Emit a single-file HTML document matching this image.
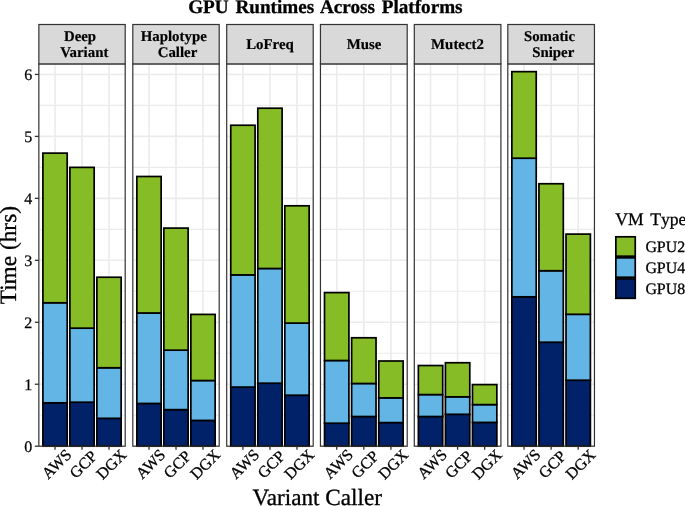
<!DOCTYPE html>
<html><head><meta charset="utf-8"><title>GPU Runtimes Across Platforms</title>
<style>html,body{margin:0;padding:0;background:#fff}svg{display:block}</style></head>
<body>
<svg width="685" height="506" viewBox="0 0 685 506" font-family="'Liberation Serif', serif" text-rendering="geometricPrecision">
<rect width="685" height="506" fill="#fff"/>
<rect x="38.85" y="63.9" width="86.35" height="382.30" fill="#fff"/>
<g stroke="#ebebeb"><line x1="38.85" x2="125.20" y1="446.20" y2="446.20" stroke-width="1.6"/><line x1="38.85" x2="125.20" y1="415.22" y2="415.22" stroke-width="1.1"/><line x1="38.85" x2="125.20" y1="384.24" y2="384.24" stroke-width="1.6"/><line x1="38.85" x2="125.20" y1="353.26" y2="353.26" stroke-width="1.1"/><line x1="38.85" x2="125.20" y1="322.28" y2="322.28" stroke-width="1.6"/><line x1="38.85" x2="125.20" y1="291.30" y2="291.30" stroke-width="1.1"/><line x1="38.85" x2="125.20" y1="260.32" y2="260.32" stroke-width="1.6"/><line x1="38.85" x2="125.20" y1="229.34" y2="229.34" stroke-width="1.1"/><line x1="38.85" x2="125.20" y1="198.36" y2="198.36" stroke-width="1.6"/><line x1="38.85" x2="125.20" y1="167.38" y2="167.38" stroke-width="1.1"/><line x1="38.85" x2="125.20" y1="136.40" y2="136.40" stroke-width="1.6"/><line x1="38.85" x2="125.20" y1="105.42" y2="105.42" stroke-width="1.1"/><line x1="38.85" x2="125.20" y1="74.44" y2="74.44" stroke-width="1.6"/><line x1="55.04" x2="55.04" y1="63.9" y2="446.2" stroke-width="1.6"/><line x1="82.03" x2="82.03" y1="63.9" y2="446.2" stroke-width="1.6"/><line x1="109.01" x2="109.01" y1="63.9" y2="446.2" stroke-width="1.6"/></g>
<g stroke="#000" stroke-width="1.7" stroke-linejoin="miter"><rect x="42.90" y="402.83" width="24.29" height="43.37" fill="#012169"/><rect x="42.90" y="302.76" width="24.29" height="100.07" fill="#62b5e5"/><rect x="42.90" y="153.13" width="24.29" height="149.63" fill="#86bc25"/><rect x="69.88" y="402.21" width="24.29" height="43.99" fill="#012169"/><rect x="69.88" y="328.17" width="24.29" height="74.04" fill="#62b5e5"/><rect x="69.88" y="167.38" width="24.29" height="160.79" fill="#86bc25"/><rect x="96.87" y="418.32" width="24.29" height="27.88" fill="#012169"/><rect x="96.87" y="367.76" width="24.29" height="50.56" fill="#62b5e5"/><rect x="96.87" y="277.24" width="24.29" height="90.52" fill="#86bc25"/></g>
<rect x="38.85" y="63.9" width="86.35" height="382.30" fill="none" stroke="#333" stroke-width="1.2"/>
<rect x="38.85" y="24.5" width="86.35" height="39.40" fill="#d9d9d9" stroke="#333" stroke-width="1.2"/>
<text x="80.0" y="41.3" font-size="14.85" font-weight="bold" text-anchor="middle" fill="#000" stroke="#000" stroke-width="0.2">Deep</text>
<text x="84.3" y="57.2" font-size="14.85" font-weight="bold" text-anchor="middle" fill="#000" stroke="#000" stroke-width="0.2">Variant</text>
<line x1="55.04" x2="55.04" y1="446.2" y2="449.8" stroke="#333" stroke-width="1.3"/>
<text transform="translate(72.44,455.6) rotate(-45)" font-size="16" text-anchor="end" fill="#000" stroke="#000" stroke-width="0.3">AWS</text>
<line x1="82.03" x2="82.03" y1="446.2" y2="449.8" stroke="#333" stroke-width="1.3"/>
<text transform="translate(98.03,457.2) rotate(-45)" font-size="16" text-anchor="end" fill="#000" stroke="#000" stroke-width="0.3">GCP</text>
<line x1="109.01" x2="109.01" y1="446.2" y2="449.8" stroke="#333" stroke-width="1.3"/>
<text transform="translate(127.31,455.8) rotate(-45)" font-size="16" text-anchor="end" fill="#000" stroke="#000" stroke-width="0.3">DGX</text>
<rect x="132.80" y="63.9" width="86.40" height="382.30" fill="#fff"/>
<g stroke="#ebebeb"><line x1="132.80" x2="219.20" y1="446.20" y2="446.20" stroke-width="1.6"/><line x1="132.80" x2="219.20" y1="415.22" y2="415.22" stroke-width="1.1"/><line x1="132.80" x2="219.20" y1="384.24" y2="384.24" stroke-width="1.6"/><line x1="132.80" x2="219.20" y1="353.26" y2="353.26" stroke-width="1.1"/><line x1="132.80" x2="219.20" y1="322.28" y2="322.28" stroke-width="1.6"/><line x1="132.80" x2="219.20" y1="291.30" y2="291.30" stroke-width="1.1"/><line x1="132.80" x2="219.20" y1="260.32" y2="260.32" stroke-width="1.6"/><line x1="132.80" x2="219.20" y1="229.34" y2="229.34" stroke-width="1.1"/><line x1="132.80" x2="219.20" y1="198.36" y2="198.36" stroke-width="1.6"/><line x1="132.80" x2="219.20" y1="167.38" y2="167.38" stroke-width="1.1"/><line x1="132.80" x2="219.20" y1="136.40" y2="136.40" stroke-width="1.6"/><line x1="132.80" x2="219.20" y1="105.42" y2="105.42" stroke-width="1.1"/><line x1="132.80" x2="219.20" y1="74.44" y2="74.44" stroke-width="1.6"/><line x1="149.00" x2="149.00" y1="63.9" y2="446.2" stroke-width="1.6"/><line x1="176.00" x2="176.00" y1="63.9" y2="446.2" stroke-width="1.6"/><line x1="203.00" x2="203.00" y1="63.9" y2="446.2" stroke-width="1.6"/></g>
<g stroke="#000" stroke-width="1.7" stroke-linejoin="miter"><rect x="136.85" y="403.45" width="24.30" height="42.75" fill="#012169"/><rect x="136.85" y="312.99" width="24.30" height="90.46" fill="#62b5e5"/><rect x="136.85" y="176.49" width="24.30" height="136.50" fill="#86bc25"/><rect x="163.85" y="409.64" width="24.30" height="36.56" fill="#012169"/><rect x="163.85" y="350.16" width="24.30" height="59.48" fill="#62b5e5"/><rect x="163.85" y="228.10" width="24.30" height="122.06" fill="#86bc25"/><rect x="190.85" y="420.42" width="24.30" height="25.78" fill="#012169"/><rect x="190.85" y="380.52" width="24.30" height="39.90" fill="#62b5e5"/><rect x="190.85" y="314.41" width="24.30" height="66.11" fill="#86bc25"/></g>
<rect x="132.80" y="63.9" width="86.40" height="382.30" fill="none" stroke="#333" stroke-width="1.2"/>
<rect x="132.80" y="24.5" width="86.40" height="39.40" fill="#d9d9d9" stroke="#333" stroke-width="1.2"/>
<text x="173.75" y="41.3" font-size="14.85" font-weight="bold" text-anchor="middle" fill="#000" stroke="#000" stroke-width="0.2">Haplotype</text>
<text x="177.5" y="57.2" font-size="14.85" font-weight="bold" text-anchor="middle" fill="#000" stroke="#000" stroke-width="0.2">Caller</text>
<line x1="149.00" x2="149.00" y1="446.2" y2="449.8" stroke="#333" stroke-width="1.3"/>
<text transform="translate(166.40,455.6) rotate(-45)" font-size="16" text-anchor="end" fill="#000" stroke="#000" stroke-width="0.3">AWS</text>
<line x1="176.00" x2="176.00" y1="446.2" y2="449.8" stroke="#333" stroke-width="1.3"/>
<text transform="translate(192.00,457.2) rotate(-45)" font-size="16" text-anchor="end" fill="#000" stroke="#000" stroke-width="0.3">GCP</text>
<line x1="203.00" x2="203.00" y1="446.2" y2="449.8" stroke="#333" stroke-width="1.3"/>
<text transform="translate(221.30,455.8) rotate(-45)" font-size="16" text-anchor="end" fill="#000" stroke="#000" stroke-width="0.3">DGX</text>
<rect x="226.70" y="63.9" width="86.50" height="382.30" fill="#fff"/>
<g stroke="#ebebeb"><line x1="226.70" x2="313.20" y1="446.20" y2="446.20" stroke-width="1.6"/><line x1="226.70" x2="313.20" y1="415.22" y2="415.22" stroke-width="1.1"/><line x1="226.70" x2="313.20" y1="384.24" y2="384.24" stroke-width="1.6"/><line x1="226.70" x2="313.20" y1="353.26" y2="353.26" stroke-width="1.1"/><line x1="226.70" x2="313.20" y1="322.28" y2="322.28" stroke-width="1.6"/><line x1="226.70" x2="313.20" y1="291.30" y2="291.30" stroke-width="1.1"/><line x1="226.70" x2="313.20" y1="260.32" y2="260.32" stroke-width="1.6"/><line x1="226.70" x2="313.20" y1="229.34" y2="229.34" stroke-width="1.1"/><line x1="226.70" x2="313.20" y1="198.36" y2="198.36" stroke-width="1.6"/><line x1="226.70" x2="313.20" y1="167.38" y2="167.38" stroke-width="1.1"/><line x1="226.70" x2="313.20" y1="136.40" y2="136.40" stroke-width="1.6"/><line x1="226.70" x2="313.20" y1="105.42" y2="105.42" stroke-width="1.1"/><line x1="226.70" x2="313.20" y1="74.44" y2="74.44" stroke-width="1.6"/><line x1="242.92" x2="242.92" y1="63.9" y2="446.2" stroke-width="1.6"/><line x1="269.95" x2="269.95" y1="63.9" y2="446.2" stroke-width="1.6"/><line x1="296.98" x2="296.98" y1="63.9" y2="446.2" stroke-width="1.6"/></g>
<g stroke="#000" stroke-width="1.7" stroke-linejoin="miter"><rect x="230.75" y="387.09" width="24.33" height="59.11" fill="#012169"/><rect x="230.75" y="274.88" width="24.33" height="112.21" fill="#62b5e5"/><rect x="230.75" y="125.25" width="24.33" height="149.63" fill="#86bc25"/><rect x="257.79" y="383.19" width="24.33" height="63.01" fill="#012169"/><rect x="257.79" y="268.50" width="24.33" height="114.69" fill="#62b5e5"/><rect x="257.79" y="108.21" width="24.33" height="160.29" fill="#86bc25"/><rect x="284.82" y="395.21" width="24.33" height="50.99" fill="#012169"/><rect x="284.82" y="323.09" width="24.33" height="72.12" fill="#62b5e5"/><rect x="284.82" y="205.80" width="24.33" height="117.29" fill="#86bc25"/></g>
<rect x="226.70" y="63.9" width="86.50" height="382.30" fill="none" stroke="#333" stroke-width="1.2"/>
<rect x="226.70" y="24.5" width="86.50" height="39.40" fill="#d9d9d9" stroke="#333" stroke-width="1.2"/>
<text x="270" y="49.1" font-size="14.85" font-weight="bold" text-anchor="middle" fill="#000" stroke="#000" stroke-width="0.2">LoFreq</text>
<line x1="242.92" x2="242.92" y1="446.2" y2="449.8" stroke="#333" stroke-width="1.3"/>
<text transform="translate(260.32,455.6) rotate(-45)" font-size="16" text-anchor="end" fill="#000" stroke="#000" stroke-width="0.3">AWS</text>
<line x1="269.95" x2="269.95" y1="446.2" y2="449.8" stroke="#333" stroke-width="1.3"/>
<text transform="translate(285.95,457.2) rotate(-45)" font-size="16" text-anchor="end" fill="#000" stroke="#000" stroke-width="0.3">GCP</text>
<line x1="296.98" x2="296.98" y1="446.2" y2="449.8" stroke="#333" stroke-width="1.3"/>
<text transform="translate(315.28,455.8) rotate(-45)" font-size="16" text-anchor="end" fill="#000" stroke="#000" stroke-width="0.3">DGX</text>
<rect x="320.45" y="63.9" width="86.75" height="382.30" fill="#fff"/>
<g stroke="#ebebeb"><line x1="320.45" x2="407.20" y1="446.20" y2="446.20" stroke-width="1.6"/><line x1="320.45" x2="407.20" y1="415.22" y2="415.22" stroke-width="1.1"/><line x1="320.45" x2="407.20" y1="384.24" y2="384.24" stroke-width="1.6"/><line x1="320.45" x2="407.20" y1="353.26" y2="353.26" stroke-width="1.1"/><line x1="320.45" x2="407.20" y1="322.28" y2="322.28" stroke-width="1.6"/><line x1="320.45" x2="407.20" y1="291.30" y2="291.30" stroke-width="1.1"/><line x1="320.45" x2="407.20" y1="260.32" y2="260.32" stroke-width="1.6"/><line x1="320.45" x2="407.20" y1="229.34" y2="229.34" stroke-width="1.1"/><line x1="320.45" x2="407.20" y1="198.36" y2="198.36" stroke-width="1.6"/><line x1="320.45" x2="407.20" y1="167.38" y2="167.38" stroke-width="1.1"/><line x1="320.45" x2="407.20" y1="136.40" y2="136.40" stroke-width="1.6"/><line x1="320.45" x2="407.20" y1="105.42" y2="105.42" stroke-width="1.1"/><line x1="320.45" x2="407.20" y1="74.44" y2="74.44" stroke-width="1.6"/><line x1="336.72" x2="336.72" y1="63.9" y2="446.2" stroke-width="1.6"/><line x1="363.82" x2="363.82" y1="63.9" y2="446.2" stroke-width="1.6"/><line x1="390.93" x2="390.93" y1="63.9" y2="446.2" stroke-width="1.6"/></g>
<g stroke="#000" stroke-width="1.7" stroke-linejoin="miter"><rect x="324.52" y="423.21" width="24.40" height="22.99" fill="#012169"/><rect x="324.52" y="360.51" width="24.40" height="62.70" fill="#62b5e5"/><rect x="324.52" y="292.60" width="24.40" height="67.91" fill="#86bc25"/><rect x="351.63" y="416.52" width="24.40" height="29.68" fill="#012169"/><rect x="351.63" y="383.50" width="24.40" height="33.02" fill="#62b5e5"/><rect x="351.63" y="337.77" width="24.40" height="45.73" fill="#86bc25"/><rect x="378.74" y="422.59" width="24.40" height="23.61" fill="#012169"/><rect x="378.74" y="397.87" width="24.40" height="24.72" fill="#62b5e5"/><rect x="378.74" y="361.00" width="24.40" height="36.87" fill="#86bc25"/></g>
<rect x="320.45" y="63.9" width="86.75" height="382.30" fill="none" stroke="#333" stroke-width="1.2"/>
<rect x="320.45" y="24.5" width="86.75" height="39.40" fill="#d9d9d9" stroke="#333" stroke-width="1.2"/>
<text x="364" y="49.1" font-size="14.85" font-weight="bold" text-anchor="middle" fill="#000" stroke="#000" stroke-width="0.2">Muse</text>
<line x1="336.72" x2="336.72" y1="446.2" y2="449.8" stroke="#333" stroke-width="1.3"/>
<text transform="translate(354.12,455.6) rotate(-45)" font-size="16" text-anchor="end" fill="#000" stroke="#000" stroke-width="0.3">AWS</text>
<line x1="363.82" x2="363.82" y1="446.2" y2="449.8" stroke="#333" stroke-width="1.3"/>
<text transform="translate(379.82,457.2) rotate(-45)" font-size="16" text-anchor="end" fill="#000" stroke="#000" stroke-width="0.3">GCP</text>
<line x1="390.93" x2="390.93" y1="446.2" y2="449.8" stroke="#333" stroke-width="1.3"/>
<text transform="translate(409.23,455.8) rotate(-45)" font-size="16" text-anchor="end" fill="#000" stroke="#000" stroke-width="0.3">DGX</text>
<rect x="414.30" y="63.9" width="86.60" height="382.30" fill="#fff"/>
<g stroke="#ebebeb"><line x1="414.30" x2="500.90" y1="446.20" y2="446.20" stroke-width="1.6"/><line x1="414.30" x2="500.90" y1="415.22" y2="415.22" stroke-width="1.1"/><line x1="414.30" x2="500.90" y1="384.24" y2="384.24" stroke-width="1.6"/><line x1="414.30" x2="500.90" y1="353.26" y2="353.26" stroke-width="1.1"/><line x1="414.30" x2="500.90" y1="322.28" y2="322.28" stroke-width="1.6"/><line x1="414.30" x2="500.90" y1="291.30" y2="291.30" stroke-width="1.1"/><line x1="414.30" x2="500.90" y1="260.32" y2="260.32" stroke-width="1.6"/><line x1="414.30" x2="500.90" y1="229.34" y2="229.34" stroke-width="1.1"/><line x1="414.30" x2="500.90" y1="198.36" y2="198.36" stroke-width="1.6"/><line x1="414.30" x2="500.90" y1="167.38" y2="167.38" stroke-width="1.1"/><line x1="414.30" x2="500.90" y1="136.40" y2="136.40" stroke-width="1.6"/><line x1="414.30" x2="500.90" y1="105.42" y2="105.42" stroke-width="1.1"/><line x1="414.30" x2="500.90" y1="74.44" y2="74.44" stroke-width="1.6"/><line x1="430.54" x2="430.54" y1="63.9" y2="446.2" stroke-width="1.6"/><line x1="457.60" x2="457.60" y1="63.9" y2="446.2" stroke-width="1.6"/><line x1="484.66" x2="484.66" y1="63.9" y2="446.2" stroke-width="1.6"/></g>
<g stroke="#000" stroke-width="1.7" stroke-linejoin="miter"><rect x="418.36" y="416.52" width="24.36" height="29.68" fill="#012169"/><rect x="418.36" y="394.59" width="24.36" height="21.93" fill="#62b5e5"/><rect x="418.36" y="365.53" width="24.36" height="29.06" fill="#86bc25"/><rect x="445.42" y="414.29" width="24.36" height="31.91" fill="#012169"/><rect x="445.42" y="396.82" width="24.36" height="17.47" fill="#62b5e5"/><rect x="445.42" y="362.74" width="24.36" height="34.08" fill="#86bc25"/><rect x="472.48" y="422.41" width="24.36" height="23.79" fill="#012169"/><rect x="472.48" y="404.62" width="24.36" height="17.78" fill="#62b5e5"/><rect x="472.48" y="384.61" width="24.36" height="20.01" fill="#86bc25"/></g>
<rect x="414.30" y="63.9" width="86.60" height="382.30" fill="none" stroke="#333" stroke-width="1.2"/>
<rect x="414.30" y="24.5" width="86.60" height="39.40" fill="#d9d9d9" stroke="#333" stroke-width="1.2"/>
<text x="457.5" y="49.1" font-size="14.85" font-weight="bold" text-anchor="middle" fill="#000" stroke="#000" stroke-width="0.2">Mutect2</text>
<line x1="430.54" x2="430.54" y1="446.2" y2="449.8" stroke="#333" stroke-width="1.3"/>
<text transform="translate(447.94,455.6) rotate(-45)" font-size="16" text-anchor="end" fill="#000" stroke="#000" stroke-width="0.3">AWS</text>
<line x1="457.60" x2="457.60" y1="446.2" y2="449.8" stroke="#333" stroke-width="1.3"/>
<text transform="translate(473.60,457.2) rotate(-45)" font-size="16" text-anchor="end" fill="#000" stroke="#000" stroke-width="0.3">GCP</text>
<line x1="484.66" x2="484.66" y1="446.2" y2="449.8" stroke="#333" stroke-width="1.3"/>
<text transform="translate(502.96,455.8) rotate(-45)" font-size="16" text-anchor="end" fill="#000" stroke="#000" stroke-width="0.3">DGX</text>
<rect x="507.80" y="63.9" width="86.65" height="382.30" fill="#fff"/>
<g stroke="#ebebeb"><line x1="507.80" x2="594.45" y1="446.20" y2="446.20" stroke-width="1.6"/><line x1="507.80" x2="594.45" y1="415.22" y2="415.22" stroke-width="1.1"/><line x1="507.80" x2="594.45" y1="384.24" y2="384.24" stroke-width="1.6"/><line x1="507.80" x2="594.45" y1="353.26" y2="353.26" stroke-width="1.1"/><line x1="507.80" x2="594.45" y1="322.28" y2="322.28" stroke-width="1.6"/><line x1="507.80" x2="594.45" y1="291.30" y2="291.30" stroke-width="1.1"/><line x1="507.80" x2="594.45" y1="260.32" y2="260.32" stroke-width="1.6"/><line x1="507.80" x2="594.45" y1="229.34" y2="229.34" stroke-width="1.1"/><line x1="507.80" x2="594.45" y1="198.36" y2="198.36" stroke-width="1.6"/><line x1="507.80" x2="594.45" y1="167.38" y2="167.38" stroke-width="1.1"/><line x1="507.80" x2="594.45" y1="136.40" y2="136.40" stroke-width="1.6"/><line x1="507.80" x2="594.45" y1="105.42" y2="105.42" stroke-width="1.1"/><line x1="507.80" x2="594.45" y1="74.44" y2="74.44" stroke-width="1.6"/><line x1="524.05" x2="524.05" y1="63.9" y2="446.2" stroke-width="1.6"/><line x1="551.12" x2="551.12" y1="63.9" y2="446.2" stroke-width="1.6"/><line x1="578.20" x2="578.20" y1="63.9" y2="446.2" stroke-width="1.6"/></g>
<g stroke="#000" stroke-width="1.7" stroke-linejoin="miter"><rect x="511.86" y="296.81" width="24.37" height="149.39" fill="#012169"/><rect x="511.86" y="158.21" width="24.37" height="138.60" fill="#62b5e5"/><rect x="511.86" y="71.65" width="24.37" height="86.56" fill="#86bc25"/><rect x="538.94" y="342.23" width="24.37" height="103.97" fill="#012169"/><rect x="538.94" y="270.73" width="24.37" height="71.50" fill="#62b5e5"/><rect x="538.94" y="183.74" width="24.37" height="86.99" fill="#86bc25"/><rect x="566.02" y="380.21" width="24.37" height="65.99" fill="#012169"/><rect x="566.02" y="314.29" width="24.37" height="65.93" fill="#62b5e5"/><rect x="566.02" y="234.11" width="24.37" height="80.18" fill="#86bc25"/></g>
<rect x="507.80" y="63.9" width="86.65" height="382.30" fill="none" stroke="#333" stroke-width="1.2"/>
<rect x="507.80" y="24.5" width="86.65" height="39.40" fill="#d9d9d9" stroke="#333" stroke-width="1.2"/>
<text x="549.5" y="41.3" font-size="14.85" font-weight="bold" text-anchor="middle" fill="#000" stroke="#000" stroke-width="0.2">Somatic</text>
<text x="553.25" y="57.2" font-size="14.85" font-weight="bold" text-anchor="middle" fill="#000" stroke="#000" stroke-width="0.2">Sniper</text>
<line x1="524.05" x2="524.05" y1="446.2" y2="449.8" stroke="#333" stroke-width="1.3"/>
<text transform="translate(541.45,455.6) rotate(-45)" font-size="16" text-anchor="end" fill="#000" stroke="#000" stroke-width="0.3">AWS</text>
<line x1="551.12" x2="551.12" y1="446.2" y2="449.8" stroke="#333" stroke-width="1.3"/>
<text transform="translate(567.12,457.2) rotate(-45)" font-size="16" text-anchor="end" fill="#000" stroke="#000" stroke-width="0.3">GCP</text>
<line x1="578.20" x2="578.20" y1="446.2" y2="449.8" stroke="#333" stroke-width="1.3"/>
<text transform="translate(596.50,455.8) rotate(-45)" font-size="16" text-anchor="end" fill="#000" stroke="#000" stroke-width="0.3">DGX</text>
<line x1="34.8" x2="38.8" y1="446.20" y2="446.20" stroke="#333" stroke-width="1.3"/>
<text x="32.2" y="451.70" font-size="16" text-anchor="end" fill="#000" stroke="#000" stroke-width="0.25">0</text>
<line x1="34.8" x2="38.8" y1="384.24" y2="384.24" stroke="#333" stroke-width="1.3"/>
<text x="32.2" y="389.74" font-size="16" text-anchor="end" fill="#000" stroke="#000" stroke-width="0.25">1</text>
<line x1="34.8" x2="38.8" y1="322.28" y2="322.28" stroke="#333" stroke-width="1.3"/>
<text x="32.2" y="327.78" font-size="16" text-anchor="end" fill="#000" stroke="#000" stroke-width="0.25">2</text>
<line x1="34.8" x2="38.8" y1="260.32" y2="260.32" stroke="#333" stroke-width="1.3"/>
<text x="32.2" y="265.82" font-size="16" text-anchor="end" fill="#000" stroke="#000" stroke-width="0.25">3</text>
<line x1="34.8" x2="38.8" y1="198.36" y2="198.36" stroke="#333" stroke-width="1.3"/>
<text x="32.2" y="203.86" font-size="16" text-anchor="end" fill="#000" stroke="#000" stroke-width="0.25">4</text>
<line x1="34.8" x2="38.8" y1="136.40" y2="136.40" stroke="#333" stroke-width="1.3"/>
<text x="32.2" y="141.90" font-size="16" text-anchor="end" fill="#000" stroke="#000" stroke-width="0.25">5</text>
<line x1="34.8" x2="38.8" y1="74.44" y2="74.44" stroke="#333" stroke-width="1.3"/>
<text x="32.2" y="79.94" font-size="16" text-anchor="end" fill="#000" stroke="#000" stroke-width="0.25">6</text>
<text x="188.2" y="13.2" font-size="19.15" word-spacing="2" font-weight="bold" textLength="274.4" lengthAdjust="spacingAndGlyphs" fill="#000" stroke="#000" stroke-width="0.3">GPU Runtimes Across Platforms</text>
<text x="252.6" y="505.2" font-size="23.3" textLength="129.4" lengthAdjust="spacingAndGlyphs" fill="#000" stroke="#000" stroke-width="0.3">Variant Caller</text>
<text transform="translate(15.65,304.3) rotate(-90)" font-size="23.3" textLength="98.3" lengthAdjust="spacingAndGlyphs" fill="#000" stroke="#000" stroke-width="0.3">Time (hrs)</text>
<text x="615.2" y="225.2" font-size="17.6" style="font-kerning:none" word-spacing="2.3" fill="#000" stroke="#000" stroke-width="0.3">VM Type</text>
<rect x="615.85" y="236.80" width="19.4" height="19.4" fill="#86bc25" stroke="#000" stroke-width="1.7"/>
<text x="645.4" y="251.80" font-size="15.9" fill="#000" stroke="#000" stroke-width="0.3">GPU2</text>
<rect x="615.85" y="257.85" width="19.4" height="19.4" fill="#62b5e5" stroke="#000" stroke-width="1.7"/>
<text x="645.4" y="272.85" font-size="15.9" fill="#000" stroke="#000" stroke-width="0.3">GPU4</text>
<rect x="615.85" y="278.90" width="19.4" height="19.4" fill="#012169" stroke="#000" stroke-width="1.7"/>
<text x="645.4" y="293.90" font-size="15.9" fill="#000" stroke="#000" stroke-width="0.3">GPU8</text>
</svg>
</body></html>
